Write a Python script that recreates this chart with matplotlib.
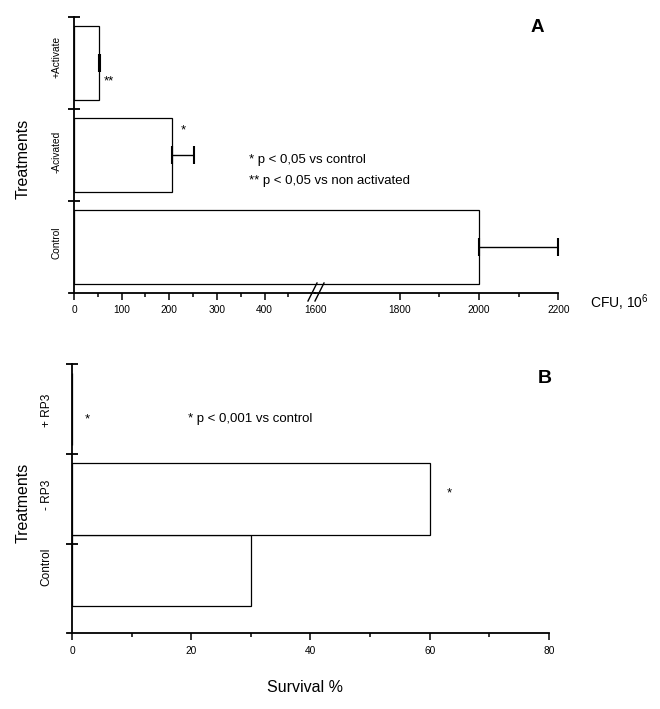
import numpy as np
import matplotlib
matplotlib.use('Agg')
from matplotlib import pyplot as plt
from matplotlib.lines import Line2D

plt.rcParams['font.family'] = ['Liberation Sans', 'DejaVu Sans']
plt.rcParams['mathtext.default'] = 'regular'

# panel A - CFU, 10^6
cats_a = ['Control', '-Acivated', '+Activate']
cfu = [2000, 205, 53]
cfu_err = [200, 47, 1.5]
marks_a = ['', '*', '**']

# panel B - survival %
cats_b = ['Control', '- RP3', '+ RP3']
survival = [30, 60, 0]
marks_b = ['', '*', '*']

W, H = 660, 709
fig = plt.figure(figsize=(W / 100, H / 100), dpi=100)


def px(x0, y_top, x1, y_bot):
    # pixel box -> figure fraction
    return [x0 / W, 1 - y_bot / H, (x1 - x0) / W, (y_bot - y_top) / H]


lw_bar = 0.9
lw_ax = 1.3
tick_fs = 7.3


def style_x(ax):
    ax.tick_params(axis='x', which='major', direction='out', length=5, width=1.1,
                   labelsize=tick_fs, pad=4)
    ax.tick_params(axis='x', which='minor', direction='out', length=3, width=1.1)
    ax.spines['bottom'].set_linewidth(lw_ax)


def style_y(ax, label_pos, labels, size, pad):
    ax.set_yticks([1, 2, 3])
    ax.set_yticklabels([])
    ax.set_yticks(label_pos, labels, minor=True)
    ax.tick_params(axis='y', which='major', direction='inout', length=8, width=1.3)
    ax.tick_params(axis='y', which='minor', length=0, pad=pad, labelsize=size)
    for t in ax.get_yticklabels(minor=True):
        t.set_rotation(90)
        t.set_va('center')
    ax.spines['left'].set_linewidth(lw_ax)


# ---------------- panel A (broken x axis) ----------------
pos_a = np.array([0.5, 1.5, 2.5])
ax_r = fig.add_axes(px(315, 16.7, 562.4, 292.7))
ax_l = fig.add_axes(px(69, 16.7, 315, 292.7))

for ax in (ax_l, ax_r):
    ax.patch.set_visible(False)
    ax.barh(pos_a, cfu, height=0.8, facecolor='white', edgecolor='black', linewidth=lw_bar)
    ax.errorbar(cfu, pos_a, xerr=[np.zeros(3), cfu_err], fmt='none', ecolor='black',
                elinewidth=1.0, capsize=6.8, capthick=1.5)
    ax.set_ylim(0, 3)
    ax.spines['top'].set_visible(False)
    ax.spines['right'].set_visible(False)
    style_x(ax)

ax_l.set_xlim(-10.5, 506)
ax_l.spines['left'].set_position(('data', 0))
ax_l.set_xticks([0, 100, 200, 300, 400])
ax_l.set_xticks([50, 150, 250, 350, 450], minor=True)
style_y(ax_l, [0.54, 1.53, 2.56], cats_a, 7.3, 9)

ax_r.set_xlim(1586.5, 2210)
ax_r.spines['bottom'].set_bounds(1586.5, 2200)
ax_r.spines['left'].set_visible(False)
ax_r.set_yticks([])
ax_r.set_xticks([1800, 2000, 2200])
ax_r.set_xticks([1900, 2100], minor=True)
ax_r.text(1588, -0.063, '1600', transform=ax_r.get_xaxis_transform(),
          ha='center', va='center', fontsize=tick_fs)

# significance marks
ax_l.text(63, 2.30, marks_a[2], fontsize=9.5, va='center')
ax_l.text(229, 1.76, marks_a[1], fontsize=9.5, va='center', ha='center')
ax_l.text(367, 1.44, '* p < 0,05 vs control', fontsize=9.5, va='center')
ax_l.text(367, 1.21, '** p < 0,05 vs non activated', fontsize=9.5, va='center')

# break marks
for xb in (308, 315):
    fig.add_artist(Line2D([xb / W, (xb + 9) / W], [1 - 301 / H, 1 - 283 / H],
                          color='black', linewidth=1.0))

fig.text(537 / W, 1 - 27 / H, 'A', fontsize=13.5, fontweight='bold', ha='center', va='center')
fig.text(590 / W, 1 - 303 / H, 'CFU, 10$^{6}$', fontsize=10, ha='left', va='center')
fig.text(23 / W, 1 - 159 / H, 'Treatments', fontsize=11.5, rotation=90,
         ha='center', va='center')

# ---------------- panel B ----------------
pos_b = np.array([0.7, 1.5, 2.5])
ax_b = fig.add_axes(px(66.9, 364.3, 549, 633.3))
ax_b.patch.set_visible(False)
ax_b.barh(pos_b, survival, height=0.8, facecolor='white', edgecolor='black', linewidth=lw_bar)
ax_b.set_xlim(-0.85, 80)
ax_b.set_ylim(0, 3)
ax_b.spines['top'].set_visible(False)
ax_b.spines['right'].set_visible(False)
ax_b.spines['left'].set_position(('data', 0))
ax_b.set_xticks([0, 20, 40, 60, 80])
ax_b.set_xticks([10, 30, 50, 70], minor=True)
style_x(ax_b)
style_y(ax_b, [0.74, 1.55, 2.49], cats_b, 8.6, 14)

ax_b.text(2.5, 2.38, marks_b[2], fontsize=9.5, va='center', ha='center')
ax_b.text(63.2, 1.56, marks_b[1], fontsize=9.5, va='center', ha='center')
ax_b.text(19.5, 2.39, '* p < 0,001 vs control', fontsize=9.5, va='center')

fig.text(545 / W, 1 - 379 / H, 'B', fontsize=14, fontweight='bold', ha='center', va='center')
fig.text(305 / W, 1 - 687 / H, 'Survival %', fontsize=11.5, ha='center', va='center')
fig.text(23 / W, 1 - 503 / H, 'Treatments', fontsize=11.5, rotation=90,
         ha='center', va='center')

fig.savefig('out.png', dpi=100)
